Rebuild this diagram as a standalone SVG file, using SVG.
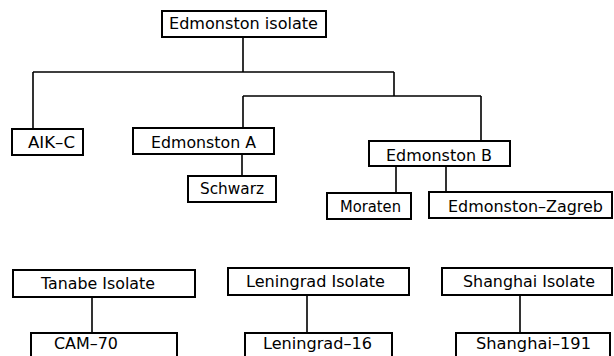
<svg xmlns="http://www.w3.org/2000/svg" width="614" height="356" viewBox="0 0 614 356">
<style>
.box{fill:#fff;stroke:#000;stroke-width:2}
.ln{fill:none;stroke:#000;stroke-width:1.6}
text{font-family:"DejaVu Sans","Liberation Sans",sans-serif;font-size:15px;fill:#000}
</style>
<rect width="614" height="356" fill="#fff"/>
<g id="connectors">
<path class="ln" d="M243 37V72M33 72H394M33 72V129M394 72V96M243 96H481M243 96V128M481 96V141M242 154V176M396 166V193M446 166V193M92 297V333M307 295V333M520 295V333"/>
</g>
<g id="edmonston-isolate"><rect class="box" x="162" y="11" width="164" height="26"/><text x="169" y="29" textLength="149" lengthAdjust="spacingAndGlyphs">Edmonston isolate</text></g>
<g id="aik-c"><rect class="box" x="12" y="129" width="71" height="26"/><text x="28" y="148" textLength="47" lengthAdjust="spacingAndGlyphs">AIK–C</text></g>
<g id="edmonston-a"><rect class="box" x="133" y="128" width="141" height="26"/><text x="151" y="148" textLength="105" lengthAdjust="spacingAndGlyphs">Edmonston A</text></g>
<g id="schwarz"><rect class="box" x="188" y="176" width="88" height="26"/><text x="200" y="194" textLength="64" lengthAdjust="spacingAndGlyphs">Schwarz</text></g>
<g id="edmonston-b"><rect class="box" x="369" y="141" width="141" height="25"/><text x="386" y="161" textLength="106" lengthAdjust="spacingAndGlyphs">Edmonston B</text></g>
<g id="moraten"><rect class="box" x="327" y="193" width="84" height="26"/><text x="340" y="212" textLength="61" lengthAdjust="spacingAndGlyphs">Moraten</text></g>
<g id="edmonston-zagreb"><rect class="box" x="429" y="192" width="183" height="26"/><text x="448" y="212" textLength="155" lengthAdjust="spacingAndGlyphs">Edmonston–Zagreb</text></g>
<g id="tanabe-isolate"><rect class="box" x="13" y="270" width="182" height="27"/><text x="41" y="289" textLength="114" lengthAdjust="spacingAndGlyphs">Tanabe Isolate</text></g>
<g id="leningrad-isolate"><rect class="box" x="228" y="268" width="181" height="27"/><text x="246" y="287" textLength="139" lengthAdjust="spacingAndGlyphs">Leningrad Isolate</text></g>
<g id="shanghai-isolate"><rect class="box" x="442" y="268" width="170" height="27"/><text x="463" y="287" textLength="132" lengthAdjust="spacingAndGlyphs">Shanghai Isolate</text></g>
<g id="cam-70"><rect class="box" x="31" y="333" width="146" height="40"/><text x="54" y="349" textLength="64" lengthAdjust="spacingAndGlyphs">CAM–70</text></g>
<g id="leningrad-16"><rect class="box" x="245" y="333" width="147" height="40"/><text x="263" y="349" textLength="109" lengthAdjust="spacingAndGlyphs">Leningrad–16</text></g>
<g id="shanghai-191"><rect class="box" x="456" y="333" width="154" height="40"/><text x="476" y="349" textLength="115" lengthAdjust="spacingAndGlyphs">Shanghai–191</text></g>
</svg>
